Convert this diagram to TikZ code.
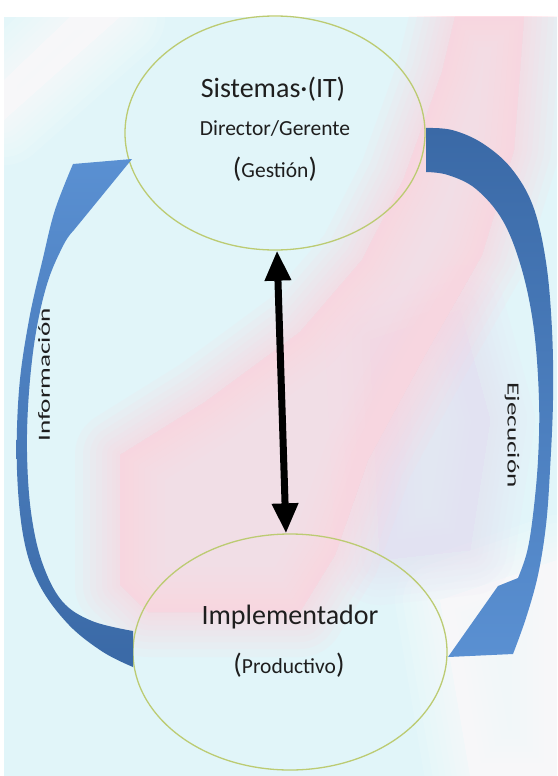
\documentclass[tikz,border=0pt]{standalone}
\usepackage{fontspec}
\usepackage{graphicx}
\setmainfont{Carlito}
\usetikzlibrary{shapes.geometric,arrows.meta}

\definecolor{bgcyan}{HTML}{E1F5F9}
\definecolor{bgpink}{HTML}{FFD6E0}
\definecolor{bglav}{HTML}{EAE2F2}
\definecolor{rimgreen}{HTML}{BCCB72}
\definecolor{flowdark}{HTML}{3A69A6}
\definecolor{flowlight}{HTML}{5A90D2}
\definecolor{inkgray}{HTML}{1E1E1E}

% soft-edged translucent patch: colour, closed outline
\newcommand\hazepatch[2]{%
  \foreach \w in {90,74,60,48,36,26,16,8}{%
    \path[fill=#1, draw=#1, line width=\w pt, line join=round, opacity=0.12] #2 -- cycle;}}
\newcommand\bigparen[1]{{\fontsize{28}{28}\selectfont #1}}

\tikzset{
  role/.style={ellipse, draw=rimgreen, line width=1.3pt, inner sep=0pt},
  bigtext/.style={text=inkgray, font=\fontsize{28}{28}\selectfont, anchor=base, inner sep=0pt},
  midtext/.style={text=inkgray, font=\fontsize{21.5}{21.5}\selectfont, anchor=base, inner sep=0pt},
  sidetext/.style={text=inkgray, font=\fontsize{17}{17}\selectfont, inner sep=0pt},
  twoway/.style={line width=7pt, draw=black,
    {Triangle[length=30pt,width=25pt]}-{Triangle[length=30pt,width=25pt]}},
}

\begin{document}
\begin{tikzpicture}[x=1pt,y=-1pt]
  \useasboundingbox (0,0) rectangle (557,776);
  \fill[white] (0,0) rectangle (557,776);

  % backdrop
  \begin{scope}
    \clip (4,17) rectangle (557,776);
    \fill[bgcyan] (4,17) rectangle (557,776);
    \begin{scope}[opacity=0.5]
      \hazepatch{white}{(4,80) -- (70,17) -- (120,17) -- (4,120)}
      \hazepatch{white}{(440,600) -- (557,560) -- (557,776) -- (470,776)}
    \end{scope}
    \hazepatch{bglav}{(370,340) -- (460,310) -- (490,420) -- (470,550) -- (380,560)}
    \hazepatch{bgpink}{(455,17) -- (524,17) -- (514,150) -- (482,255) -- (425,355) -- (368,460) -- (335,555) -- (300,612) -- (148,612) -- (120,585) -- (120,455) -- (205,402) -- (300,332) -- (362,260) -- (404,178) -- (442,72)}
  \end{scope}

  % the two roles
  \node[role, minimum width=300pt, minimum height=234pt] (top) at (275,133) {};
  \node[role, minimum width=314pt, minimum height=236pt] (bot) at (290,652) {};

  \node[bigtext] (t1) at (273,97) {Sistemas·(IT)};
  \node[midtext] (t2) at (275,135) {Director/Gerente};
  \node[midtext] (t3) at (275,177) {\bigparen{(}Gestión\bigparen{)}};
  \node[bigtext] (b1) at (290,624) {Implementador};
  \node[midtext] (b2) at (289,673) {\bigparen{(}Productivo\bigparen{)}};

  % curved flow arrows
  \shade[top color=flowlight, bottom color=flowdark]
    plot[smooth, tension=0.6] coordinates {(133,667) (103,652) (69,625) (40,586) (24,540) (17,470) (19,390) (29,320) (43,258) (55,210) (73,164)}
    -- (132,159) -- (74,230)
    -- plot[smooth, tension=0.6] coordinates {(74,230) (64,244) (48,281) (36,332) (29,392) (27,452) (31,512) (42,562) (62,601) (92,621) (133,631)}
    -- cycle;
  \shade[top color=flowdark, bottom color=flowlight]
    plot[smooth, tension=0.6] coordinates {(426,128) (452,130) (482,143) (511,168) (533,206) (546,262) (552,330) (553,400) (550,470) (546,525) (538,575) (526,618) (513,654)}
    -- (448,657) -- (498,586) -- (518,578)
    -- plot[smooth, tension=0.6] coordinates {(518,578) (527,552) (533,515) (538,460) (539,400) (534,330) (522,270) (503,221) (476,189) (448,175) (426,172)}
    -- cycle;

  \node[sidetext, rotate=90] (info) at (44,375) {\scalebox{1.6}[1]{Información}};
  \node[sidetext, rotate=-90] (exec) at (512,435) {\scalebox{1.6}[1]{Ejecución}};

  % two-way link between the roles
  \draw[twoway] ([xshift=2pt]top.south) -- ([xshift=-4pt]bot.north);
\end{tikzpicture}
\end{document}
